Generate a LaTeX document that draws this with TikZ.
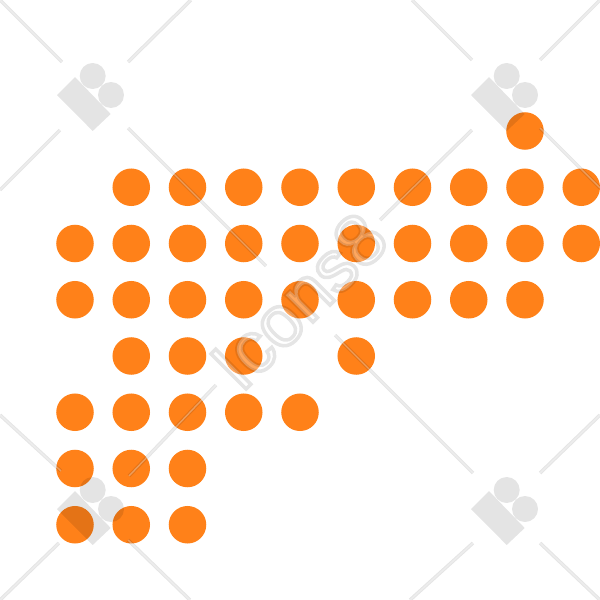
\documentclass[tikz,border=0pt]{standalone}
\usepackage{fontspec}
\setmainfont{Liberation Sans}
\definecolor{dotorange}{HTML}{FF8119}
\newcommand{\outlinetext}[1]{\pgfsetstrokeopacity{0.1}\special{pdf:code 2 Tr 1 w 0 G}#1\special{pdf:code 0 Tr}}
\tikzset{
    dot/.style={shape=circle, fill=dotorange, inner sep=0pt, minimum size=0.375cm},
    markgray/.style={fill=black, fill opacity=0.105},
    lineedge/.style={draw=black, draw opacity=0.1, line width=1pt},
    linecore/.style={draw=white, draw opacity=0.3, line width=0.4pt},
    markname/.style={rotate=45, text=white, text opacity=0.3, font=\fontsize{20.5}{20.5}\selectfont},
    logomark/.pic={
        \path[markgray] (57,95) -- (75,77) -- (110.7,114) -- (92.7,131) -- cycle;
        \path[markgray] (92.7,76) circle (13);
        \path[markgray] (111,95) circle (13);
    }
}
\begin{document}
\begin{tikzpicture}[x=0.01cm, y=-0.01cm]
    \clip (0,0) rectangle (600,600);
    % rows of dots, top to bottom
    \foreach \k in {8} \node[dot] at (75+56.25*\k,131) (P0\k) {};
    \foreach \k in {1,...,9} \node[dot] at (75+56.25*\k,187.25) (P1\k) {};
    \foreach \k in {0,...,9} \node[dot] at (75+56.25*\k,243.5) (P2\k) {};
    \foreach \k in {0,...,8} \node[dot] at (75+56.25*\k,299.75) (P3\k) {};
    \foreach \k in {1,2,3,5} \node[dot] at (75+56.25*\k,356) (P4\k) {};
    \foreach \k in {0,...,4} \node[dot] at (75+56.25*\k,412.25) (P5\k) {};
    \foreach \k in {0,1,2} \node[dot] at (75+56.25*\k,468.5) (P6\k) {};
    \foreach \k in {0,1,2} \node[dot] at (75+56.25*\k,524.75) (P7\k) {};
    % watermark
    \foreach \xa/\ya/\xb/\yb in {0/0/62/62, 128/128/266/266, 128/62/191/0, 60/130/0/190,
        412/0/472/60, 540/60/600/0, 472/130/380/220, 540/128/600/188,
        0/415/61/471, 129/476/216/385, 59/543/0/600, 128/540/190/600,
        335/335/473/473, 540/473/600/415, 473/543/410/600, 540/543/600/600} {
        \draw[lineedge] (\xa,\ya) -- (\xb,\yb);
        \draw[linecore] (\xa,\ya) -- (\xb,\yb);
    }
    \pic at (0,0) {logomark};
    \pic at (414,0) {logomark};
    \pic at (0,414) {logomark};
    \pic at (414,414) {logomark};
    \node[markname] at (299,301) (name) {\outlinetext{Icons8}};
\end{tikzpicture}
\end{document}
